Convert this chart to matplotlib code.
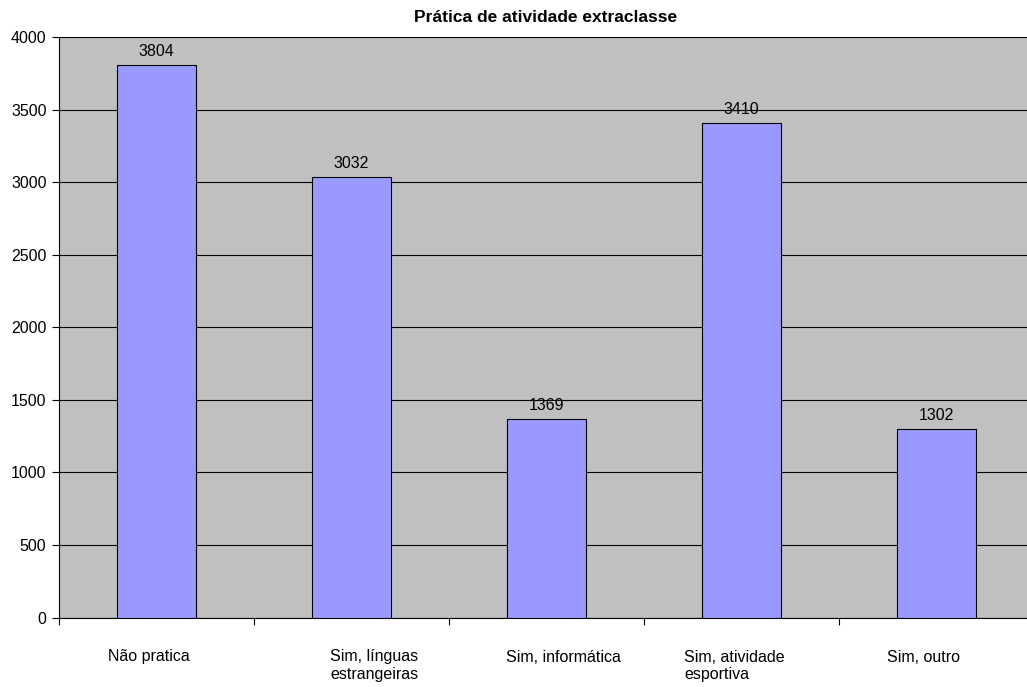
import matplotlib
matplotlib.use("Agg")
import matplotlib.pyplot as plt
import numpy as np

categories = ["Não pratica", "Sim, línguas\nestrangeiras", "Sim, informática", "Sim, atividade\nesportiva", "Sim, outro"]
values = [3804, 3032, 1369, 3410, 1302]
title = "Prática de atividade extraclasse"

plt.rcParams['font.family'] = ['Liberation Sans', 'DejaVu Sans']

fig = plt.figure(figsize=(10.27, 6.87), dpi=100)
ax = fig.add_axes([59/1027, 1-617.5/687, (1034-59)/1027, (617.5-37)/687])
ax.set_facecolor('#C0C0C0')

PX = 0.72  # points per pixel at 100 dpi

x = np.arange(len(categories))
bars = ax.bar(x, values, width=0.405, color='#9999FF', edgecolor='black', linewidth=0.8, zorder=3)
for xi, v in zip(x, values):
    ax.annotate(str(v), xy=(xi, v), xytext=(0, 9 * PX), textcoords='offset points',
                ha='center', va='baseline', fontsize=11.5, zorder=4)

ax.set_xlim(-0.5, len(categories) - 0.5)
ax.set_ylim(0, 4000)
ax.set_yticks(np.arange(0, 4001, 500))
ax.tick_params(axis='y', labelsize=11.5, direction='out', length=5, width=0.8, pad=4)
ax.yaxis.grid(True, color='black', linewidth=0.8, zorder=1)
ax.set_axisbelow(True)

# category labels (Excel places them slightly off-centre)
label_shift_px = [-8, 23, 17, -7, -13]
ax.set_xticks(x)
ax.set_xticklabels([])
ax.tick_params(axis='x', which='major', length=0)
for xi, lab, dx in zip(x, categories, label_shift_px):
    ax.annotate(lab, xy=(xi, 0), xycoords=('data', 'axes fraction'),
                xytext=(dx * PX, -32 * PX), textcoords='offset points',
                ha='center', va='top', multialignment='left',
                linespacing=1.25, fontsize=11.5, annotation_clip=False)
ax.set_xticks(np.arange(-0.5, len(categories)), minor=True)
ax.tick_params(axis='x', which='minor', length=5, width=0.8, direction='out')

ax.spines['top'].set_visible(False)
ax.spines['right'].set_visible(False)
ax.spines['left'].set_linewidth(0.8)
ax.spines['bottom'].set_linewidth(0.8)

fig.text(546/1027, 1-17/687, title, fontsize=12.5, fontweight='bold', ha='center', va='center')

fig.savefig("out.png", dpi=100, facecolor='white')
